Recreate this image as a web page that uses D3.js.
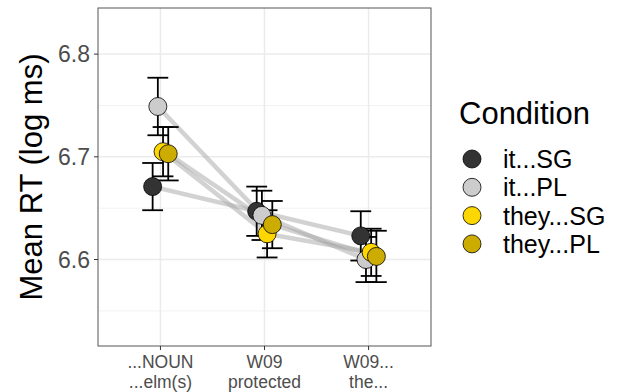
<!DOCTYPE html>
<meta charset="utf-8">
<html>
<script src="https://d3js.org/d3.v7.min.js"></script>
<style>
    body { margin: 0; background: #fff; }
    text { font-family: "Liberation Sans", Arial, sans-serif; }
</style>
<body>
<div id="chart"></div>
<script>
    // regions on the x axis (two-line labels)
    var regions = ["...NOUN\n...elm(s)", "W09\nprotected", "W09...\nthe..."];
    var conditions = ["it...SG", "it...PL", "they...SG", "they...PL"];
    var colors = ["#333333", "#cccccc", "#ffd700", "#ccac00"];

    // mean log RT per condition, one value per region
    var itSG   = [6.671, 6.647, 6.623];
    var itPL   = [6.749, 6.643, 6.600];
    var theySG = [6.705, 6.625, 6.607];
    var theyPL = [6.703, 6.634, 6.603];

    // standard errors
    var itSGse   = [0.023, 0.024, 0.024];
    var itPLse   = [0.028, 0.024, 0.022];
    var theySGse = [0.024, 0.023, 0.023];
    var theyPLse = [0.026, 0.023, 0.025];

    var yTicks = [6.6, 6.7, 6.8];

    var means = [itSG, itPL, theySG, theyPL];
    var ses = [itSGse, itPLse, theySGse, theyPLse];

    var margin = { top: 8, left: 98 },
        width = 333,
        height = 338;

    var svg = d3.select("#chart").append("svg")
        .attr("width", 621)
        .attr("height", 392);

    var g = svg.append("g")
        .attr("transform", "translate(" + margin.left + "," + margin.top + ")");

    // discrete x positions, expanded 0.6 on each side like ggplot
    var x = d3.scaleLinear().domain([0.4, 3.6]).range([0, width]);
    var y = d3.scaleLinear().domain([6.5158, 6.8449]).range([height, 0]);
    var dodge = [-0.075, -0.025, 0.025, 0.075];

    // grid
    var minor = [6.55, 6.65, 6.75];
    g.selectAll(".minor").data(minor).enter().append("line")
        .attr("x1", 0).attr("x2", width)
        .attr("y1", d => y(d)).attr("y2", d => y(d))
        .attr("stroke", "#f2f2f2").attr("stroke-width", 1);
    g.selectAll(".major").data(yTicks).enter().append("line")
        .attr("x1", 0).attr("x2", width)
        .attr("y1", d => y(d)).attr("y2", d => y(d))
        .attr("stroke", "#ebebeb").attr("stroke-width", 1.5);
    g.selectAll(".vmajor").data(regions).enter().append("line")
        .attr("x1", (d, i) => x(i + 1)).attr("x2", (d, i) => x(i + 1))
        .attr("y1", 0).attr("y2", height)
        .attr("stroke", "#ebebeb").attr("stroke-width", 1.5);

    // build data rows
    var rows = [];
    conditions.forEach(function (c, ci) {
        regions.forEach(function (r, ri) {
            rows.push({ c: ci, r: ri, m: means[ci][ri], se: ses[ci][ri] });
        });
    });
    function px(d) { return x(d.r + 1 + dodge[d.c]); }

    // connecting lines
    var line = d3.line()
        .x(function (d) { return px(d); })
        .y(function (d) { return y(d.m); });
    conditions.forEach(function (c, ci) {
        g.append("path")
            .datum(rows.filter(d => d.c === ci))
            .attr("fill", "none")
            .attr("stroke", "#a6a6a6")
            .attr("stroke-opacity", 0.5)
            .attr("stroke-width", 4.5)
            .attr("d", line);
    });

    // error bars
    var capW = x(1.1) - x(1);
    var eb = g.selectAll(".eb").data(rows).enter().append("g")
        .attr("stroke", "#000").attr("stroke-width", 1.8);
    eb.append("line")
        .attr("x1", px).attr("x2", px)
        .attr("y1", d => y(d.m + d.se)).attr("y2", d => y(d.m - d.se));
    eb.append("line")
        .attr("x1", d => px(d) - capW).attr("x2", d => px(d) + capW)
        .attr("y1", d => y(d.m + d.se)).attr("y2", d => y(d.m + d.se));
    eb.append("line")
        .attr("x1", d => px(d) - capW).attr("x2", d => px(d) + capW)
        .attr("y1", d => y(d.m - d.se)).attr("y2", d => y(d.m - d.se));

    // points
    g.selectAll(".pt").data(rows).enter().append("circle")
        .attr("cx", px)
        .attr("cy", d => y(d.m))
        .attr("r", 9)
        .attr("fill", d => colors[d.c])
        .attr("stroke", "#000")
        .attr("stroke-width", 0.8);

    // panel border
    g.append("rect")
        .attr("width", width).attr("height", height)
        .attr("fill", "none").attr("stroke", "#555").attr("stroke-width", 1);

    // y axis
    g.selectAll(".yt").data(yTicks).enter().append("line")
        .attr("x1", -4).attr("x2", 0)
        .attr("y1", d => y(d)).attr("y2", d => y(d))
        .attr("stroke", "#333").attr("stroke-width", 1);
    g.selectAll(".yl").data(yTicks).enter().append("text")
        .attr("x", -8).attr("y", d => y(d))
        .attr("dy", "0.36em")
        .attr("text-anchor", "end")
        .attr("fill", "#4d4d4d")
        .style("font-size", "23px")
        .text(d => d3.format(".1f")(d));

    // x axis
    g.selectAll(".xt").data(regions).enter().append("line")
        .attr("x1", (d, i) => x(i + 1)).attr("x2", (d, i) => x(i + 1))
        .attr("y1", height).attr("y2", height + 4)
        .attr("stroke", "#333").attr("stroke-width", 1);
    var xl = g.selectAll(".xl").data(regions).enter().append("text")
        .attr("text-anchor", "middle")
        .attr("fill", "#4d4d4d")
        .style("font-size", "17.5px");
    xl.each(function (d, i) {
        var t = d3.select(this);
        d.split("\n").forEach(function (s, k) {
            t.append("tspan")
                .attr("x", x(i + 1))
                .attr("y", height + 22 + k * 19.5)
                .text(s);
        });
    });

    // y title
    svg.append("text")
        .attr("transform", "translate(42," + (margin.top + height / 2) + ") rotate(-90)")
        .attr("text-anchor", "middle")
        .style("font-size", "31px")
        .text("Mean RT (log ms)");

    // legend
    var leg = svg.append("g").attr("transform", "translate(459,0)");
    leg.append("text")
        .attr("x", 0).attr("y", 124)
        .style("font-size", "31px")
        .text("Condition");
    conditions.forEach(function (c, i) {
        var cy = 159 + i * 28.3;
        leg.append("circle")
            .attr("cx", 13).attr("cy", cy).attr("r", 9)
            .attr("fill", colors[i]).attr("stroke", "#000").attr("stroke-width", 0.8);
        leg.append("text")
            .attr("x", 44).attr("y", cy).attr("dy", "0.36em")
            .style("font-size", "25px")
            .text(c);
    });
</script>
</body>
</html>
